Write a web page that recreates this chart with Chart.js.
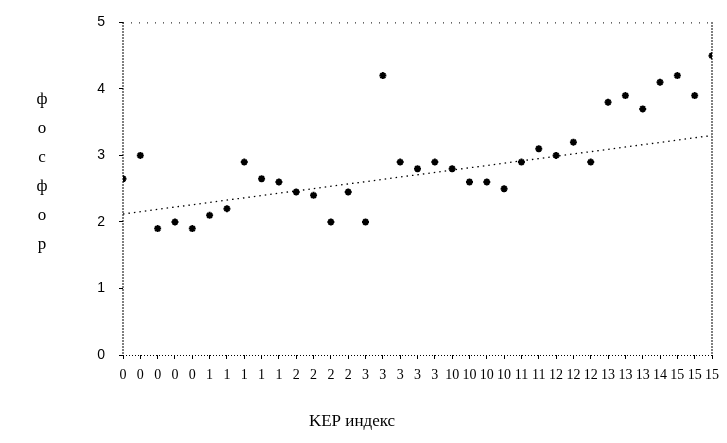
<!DOCTYPE html>
<html>
<head>
<meta charset="utf-8">
<script src="https://cdn.jsdelivr.net/npm/chart.js@4"></script>
<style>
html, body { margin: 0; padding: 0; background: #fff; }
#wrap { width: 727px; height: 443px; }
</style>
</head>
<body>
<div id="wrap"><canvas id="kerChart"></canvas></div>
<script>
// ---------- data ----------
const kerLabels = [
  "0", "0", "0", "0", "0",
  "1", "1", "1", "1", "1",
  "2", "2", "2", "2",
  "3", "3", "3", "3", "3",
  "10", "10", "10", "10",
  "11", "11",
  "12", "12", "12",
  "13", "13", "13",
  "14",
  "15", "15", "15"
];

const phosphorus = [
  2.65, 3.0, 1.9, 2.0, 1.9, 2.1, 2.2, 2.9, 2.65, 2.6,
  2.45, 2.4, 2.0, 2.45, 2.0, 4.2, 2.9, 2.8, 2.9, 2.8,
  2.6, 2.6, 2.5, 2.9, 3.1, 3.0, 3.2, 2.9, 3.8, 3.9,
  3.7, 4.1, 4.2, 3.9, 4.5
];

// trend line end values
const trendStart = 2.12;
const trendEnd = 3.3;

const yTitle = ["ф", "о", "с", "ф", "о", "р"];
const xTitle = "KEP индекс";

// ---------- dotted frame + titles ----------
function dottedLine(ctx, x1, y1, x2, y2, width, dash) {
  ctx.lineWidth = width;
  ctx.setLineDash(dash);
  ctx.beginPath();
  ctx.moveTo(x1, y1);
  ctx.lineTo(x2, y2);
  ctx.stroke();
}

const framePlugin = {
  id: "frame",
  beforeDatasetsDraw(chart) {
    const { ctx, chartArea: a } = chart;
    ctx.save();
    ctx.strokeStyle = "#000";
    dottedLine(ctx, a.left, a.top + 0.5, a.right, a.top + 0.5, 1, [1, 7]);   // top
    dottedLine(ctx, a.right, a.top, a.right, a.bottom, 2, [1, 2]);           // right
    dottedLine(ctx, a.left, a.top, a.left, a.bottom, 2, [1, 2]);             // left
    dottedLine(ctx, a.left, a.bottom + 0.5, a.right, a.bottom + 0.5, 1, [1, 2]); // bottom
    ctx.restore();
  },
  afterDraw(chart) {
    const { ctx } = chart;
    ctx.save();
    ctx.fillStyle = "#000";
    ctx.textAlign = "center";
    ctx.textBaseline = "middle";
    ctx.font = '17px "Liberation Serif"';
    yTitle.forEach((ch, i) => ctx.fillText(ch, 42, 100 + i * 29));
    ctx.fillText(xTitle, 352, 422);
    ctx.restore();
  }
};

// ---------- chart ----------
new Chart(
  document.getElementById("kerChart"),
  {
    type: "scatter",
    data: {
      datasets: [
        {
          label: "фосфор",
          data: phosphorus.map((v, i) => ({ x: i, y: v })),
          pointStyle: "star",
          pointRadius: 3.5,
          pointBorderWidth: 2,
          borderColor: "#000",
          backgroundColor: "#000",
          showLine: false
        },
        {
          label: "тренд",
          data: [
            { x: 0, y: trendStart },
            { x: kerLabels.length - 1, y: trendEnd }
          ],
          showLine: true,
          borderColor: "#000",
          borderWidth: 1.3,
          borderDash: [1.5, 4],
          pointRadius: 0
        }
      ]
    },
    options: {
      responsive: true,
      maintainAspectRatio: false,
      animation: false,
      layout: { padding: { top: 18, right: 15, left: 0, bottom: 0 } },
      plugins: {
        legend: { display: false },
        tooltip: { enabled: false }
      },
      scales: {
        x: {
          type: "linear",
          min: 0,
          max: kerLabels.length - 1,
          afterFit: s => { s.height = 88; },
          afterBuildTicks: s => {
            s.ticks = kerLabels.map((_, i) => ({ value: i }));
          },
          ticks: {
            autoSkip: false,
            maxRotation: 0,
            minRotation: 0,
            padding: 8,
            color: "#000",
            font: { family: "Liberation Serif", size: 14 },
            callback: v => kerLabels[v]
          },
          grid: {
            drawOnChartArea: false,
            tickLength: 4,
            color: "#000",
            lineWidth: 1
          },
          border: { display: false }
        },
        y: {
          min: 0,
          max: 5,
          afterFit: s => { s.width = 123; },
          ticks: {
            stepSize: 1,
            padding: 14,
            color: "#000",
            font: { family: "Liberation Sans", size: 14 }
          },
          grid: {
            drawOnChartArea: false,
            tickLength: 4,
            color: "#000",
            lineWidth: 1
          },
          border: { display: false }
        }
      }
    },
    plugins: [framePlugin]
  }
);
</script>
</body>
</html>
